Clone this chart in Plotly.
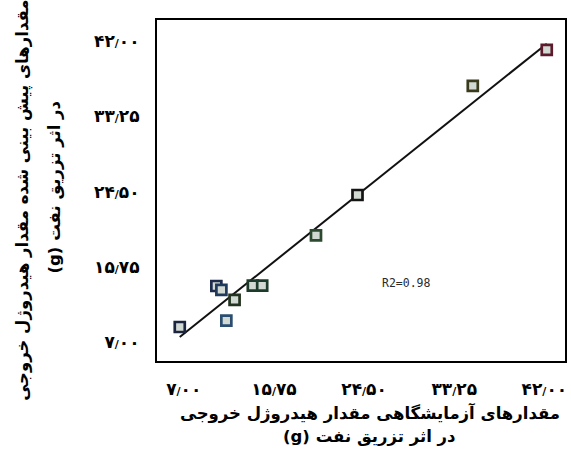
import numpy as np
import plotly.graph_objects as go

# Measured (laboratory) vs. predicted hydrogel output, grams
measured = [6.61, 10.16, 10.65, 11.13, 11.93, 13.70, 14.61, 19.83, 23.86, 35.05, 42.23]
predicted = [8.80, 13.56, 13.10, 9.53, 11.94, 13.60, 13.60, 19.45, 24.13, 36.80, 40.97]
point_colors = ["#1c2540", "#1d2b4c", "#1f3a5c", "#2b4d70", "#22331f", "#1d3b2a",
                "#1d3b2a", "#2b4a30", "#141414", "#3a3a1c", "#5c1b2c"]

tick_vals = [7.0, 15.75, 24.5, 33.25, 42.0]
r2_text = "R2=0.98"

x_title_lines = ["مقدارهای آزمایشگاهی مقدار هیدروژل خروجی", "(g) در اثر تزریق نفت"]
y_title_lines = ["مقدارهای پیش بینی شده مقدار هیدروژل خروجی", "(g) در اثر تزریق نفت"]

PERSIAN_DIGITS = str.maketrans("0123456789", "۰۱۲۳۴۵۶۷۸۹")
DECIMAL_SEP = "<span style='font-size:11px'>/</span>"


def fa_label(v):
    whole, frac = f"{v:.2f}".split(".")
    return whole.translate(PERSIAN_DIGITS) + DECIMAL_SEP + frac.translate(PERSIAN_DIGITS)


tick_text = [fa_label(v) for v in tick_vals]

# least-squares fit line spanning the measured range
slope, intercept = np.polyfit(measured, predicted, 1)
fit_x = np.array([min(measured), max(measured)])
fit_y = slope * fit_x + intercept

fig = go.Figure()
fig.add_trace(go.Scatter(
    x=fit_x, y=fit_y, mode="lines",
    line=dict(color="#111111", width=2), hoverinfo="skip", showlegend=False,
))
fig.add_trace(go.Scatter(
    x=measured, y=predicted, mode="markers",
    marker=dict(symbol="square", size=10, color="#d2d8d2",
                line=dict(color=point_colors, width=2.7)),
    showlegend=False,
))

fig.add_annotation(
    x=28.57, y=13.9, xref="x", yref="y", text=r2_text, showarrow=False,
    xanchor="center", yanchor="middle",
    font=dict(family="DejaVu Sans Mono", size=11.5, color="#2a2a2a"),
)

title_font = dict(family="DejaVu Sans", size=16.5, color="#000000", weight="bold")
title_specs = [
    (x_title_lines[0], 371, 413, 0),
    (x_title_lines[1], 371, 437, 0),
    (y_title_lines[0], 22, 200, -90),
    (y_title_lines[1], 55, 187, -90),
]
PLOT_L, PLOT_R, PLOT_T, PLOT_B = 157, 4, 20, 91
W, H = 571, 452
for text, px, py, angle in title_specs:
    fig.add_annotation(
        x=(px - PLOT_L) / (W - PLOT_L - PLOT_R),
        y=((H - py) - PLOT_B) / (H - PLOT_T - PLOT_B),
        xref="paper", yref="paper", text=text, showarrow=False,
        xanchor="center", yanchor="middle", textangle=angle, font=title_font,
    )

axis_common = dict(
    tickvals=tick_vals, ticktext=tick_text, showgrid=False, zeroline=False,
    showline=True, mirror=True, linecolor="#000000", linewidth=2,
    ticks="outside", ticklen=12, tickcolor="rgba(0,0,0,0)",
    tickfont=dict(family="DejaVu Sans", size=17, color="#000000", weight="bold"),
)
fig.update_xaxes(range=[4.4, 44.0], **axis_common)
fig.update_yaxes(range=[4.85, 44.45], **axis_common)

fig.update_layout(
    width=W, height=H,
    margin=dict(l=PLOT_L, r=PLOT_R, t=PLOT_T, b=PLOT_B),
    paper_bgcolor="#ffffff", plot_bgcolor="#ffffff",
)

fig.write_html("out.html")
